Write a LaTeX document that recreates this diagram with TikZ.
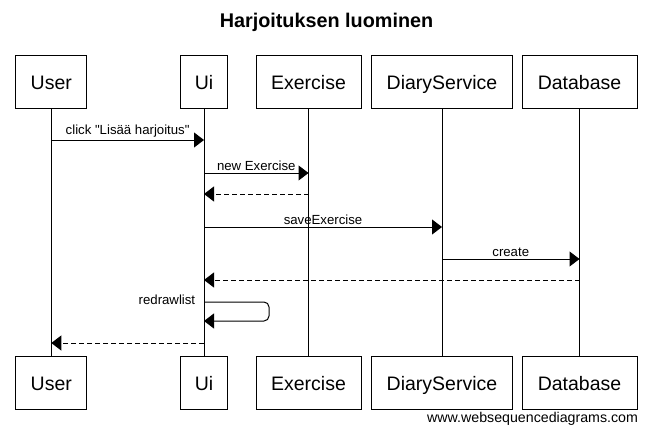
\documentclass[tikz,border=0pt]{standalone}
\usepackage{fontspec}
\setmainfont{Liberation Sans}
\usetikzlibrary{arrows.meta}

\begin{document}
\begin{tikzpicture}[
	x=1pt, y=-1pt,
	actor/.style={rectangle, draw, line width=1pt, minimum height=53pt, inner sep=0pt, text height=16pt, text depth=0pt, font=\fontsize{19.5}{23}\selectfont},
	lifeline/.style={line width=1pt},
	message/.style={-{Triangle[length=10pt, width=15pt]}, line width=1pt},
	reply/.style={message, dash pattern=on 5pt off 3pt},
	msglabel/.style={above, inner sep=2pt, font=\fontsize{13.2}{15}\selectfont}
	]
	\useasboundingbox (0,0) rectangle (650,434);
	
	% Title
	\node[font=\fontsize{19.8}{24}\selectfont\bfseries] (title) at (326.5,22) {Harjoituksen luominen};
	
	% Participants, top and bottom, with lifelines
	\foreach \name/\x/\w/\txt in {user/51.3/71/User, ui/204/47/Ui, exercise/308.5/105/Exercise, diary/442/141/DiaryService, db/579.5/115/Database} {
		\node[actor, minimum width=\w pt] (\name1) at (\x, 81.7) {\txt};
		\node[actor, minimum width=\w pt] (\name2) at (\x, 382.8) {\txt};
		\draw[lifeline] (\name1) -- (\name2);
	}
	
	% Messages
	\draw[message] (user1 |- 0,140) -- node[msglabel] {click \textquotedbl Lisää harjoitus\textquotedbl} (ui1 |- 0,140);
	\draw[message] (ui1 |- 0,173) -- node[msglabel] {new Exercise} (exercise1 |- 0,173);
	\draw[reply] (exercise1 |- 0,194) -- (ui1 |- 0,194);
	\draw[message] (ui1 |- 0,227) -- node[msglabel] {saveExercise} (diary1 |- 0,227);
	\draw[message] (diary1 |- 0,259) -- node[msglabel] {create} (db1 |- 0,259);
	\draw[reply] (db1 |- 0,280) -- (ui1 |- 0,280);
	
	% Self call
	\draw[message, rounded corners=5pt] (ui1 |- 0,302) node[anchor=east, xshift=-5pt, yshift=2pt, font=\fontsize{13.2}{15}\selectfont] {redrawlist} -- ++(65,0) |- (ui1 |- 0,321);
	\draw[reply] (ui1 |- 0,343) -- (user1 |- 0,343);
	
	% Footer
	\node[anchor=east, font=\fontsize{14.2}{17}\selectfont] (footer) at (641.5,419) {www.websequencediagrams.com};
	
\end{tikzpicture}
\end{document}
